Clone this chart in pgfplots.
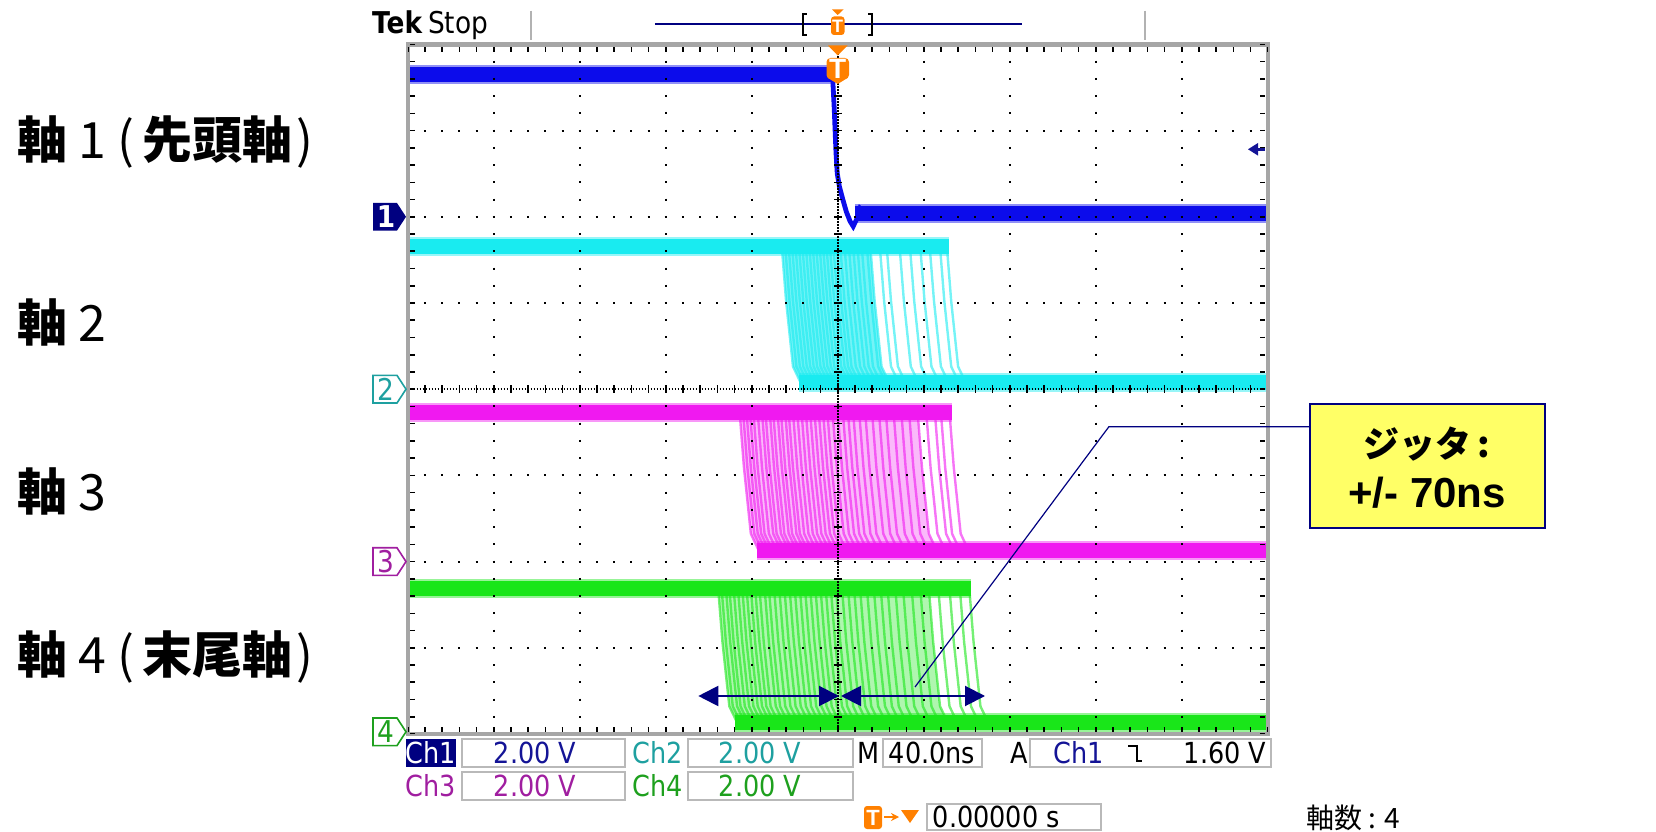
\documentclass[border=0pt]{standalone}
\usepackage{fontspec}
\usepackage{pgfplots}
\pgfplotsset{compat=1.18}
\usetikzlibrary{arrows.meta}
\newfontfamily\jp{Noto Sans CJK JP}
\newfontfamily\tek[FakeStretch=0.88]{DejaVu Sans}
\newfontfamily\arial{Liberation Sans}
\definecolor{c1}{RGB}{12,12,235}
\definecolor{c2}{RGB}{25,235,240}
\definecolor{c3}{RGB}{240,25,240}
\definecolor{c4}{RGB}{25,230,25}
\definecolor{navy}{RGB}{0,0,128}
\definecolor{tekblue}{RGB}{20,20,150}
\definecolor{tekteal}{RGB}{30,160,160}
\definecolor{tekpurple}{RGB}{160,30,160}
\definecolor{tekgreen}{RGB}{30,160,30}
\definecolor{tekorange}{RGB}{255,128,0}
\definecolor{annyellow}{RGB}{255,255,102}
\pgfplotsset{
  fringe/.style={line width=9.5pt, opacity=0.45},
  core/.style={line width=7.5pt},
  trans/.style={line width=1.2pt, opacity=0.6, unbounded coords=jump},
  env/.style={draw=none, opacity=0.45},
}
\begin{document}
\begin{tikzpicture}
\begin{axis}[at={(203.85pt,-367pt)}, anchor=south west, x=43pt, y=43.1pt,
  xmin=-5, xmax=5, ymin=-4, ymax=4, hide axis, clip=false]
% ---------- Ch1 (leading axis)
\addplot[c1, fringe] coordinates {(-5,3.645) (-0.05,3.645)};
\addplot[c1, core] coordinates {(-5,3.645) (-0.05,3.645)};
\addplot[c1, line width=2.4pt] coordinates {(-0.06,3.645) (-0.04,3.25) (-0.02,2.75) (-0.005,2.5) (0.02,2.35) (0.06,2.2) (0.10,2.06) (0.143,1.95) (0.18,1.89) (0.22,1.97) (0.26,2.10) (0.31,2.06) (0.37,2.03)};
\addplot[c1, fringe] coordinates {(0.2,2.044) (5,2.044)};
\addplot[c1, core] coordinates {(0.2,2.044) (5,2.044)};
% ---------- Ch2
\addplot[fill=c2, env, opacity=0.6] coordinates {(-0.65,1.65)(-0.60,1.02)(-0.52,0.263)(-0.43,0.074)(0.60,0.074)(0.51,0.263)(0.43,1.02)(0.38,1.65)};
\addplot[c2, trans] coordinates {
(-0.65,1.65)(-0.60,1.02)(-0.52,0.263)(-0.43,0.074)(0,nan)
(-0.61,1.65)(-0.56,1.02)(-0.48,0.263)(-0.39,0.074)(0,nan)
(-0.57,1.65)(-0.52,1.02)(-0.44,0.263)(-0.35,0.074)(0,nan)
(-0.53,1.65)(-0.48,1.02)(-0.40,0.263)(-0.31,0.074)(0,nan)
(-0.49,1.65)(-0.44,1.02)(-0.36,0.263)(-0.27,0.074)(0,nan)
(-0.45,1.65)(-0.40,1.02)(-0.32,0.263)(-0.23,0.074)(0,nan)
(-0.41,1.65)(-0.36,1.02)(-0.28,0.263)(-0.19,0.074)(0,nan)
(-0.37,1.65)(-0.32,1.02)(-0.24,0.263)(-0.15,0.074)(0,nan)
(-0.33,1.65)(-0.28,1.02)(-0.20,0.263)(-0.11,0.074)(0,nan)
(-0.29,1.65)(-0.24,1.02)(-0.16,0.263)(-0.07,0.074)(0,nan)
(-0.25,1.65)(-0.20,1.02)(-0.12,0.263)(-0.03,0.074)(0,nan)
(-0.21,1.65)(-0.16,1.02)(-0.08,0.263)(0.01,0.074)(0,nan)
(-0.17,1.65)(-0.12,1.02)(-0.04,0.263)(0.05,0.074)(0,nan)
(-0.13,1.65)(-0.08,1.02)(0.00,0.263)(0.09,0.074)(0,nan)
(-0.09,1.65)(-0.04,1.02)(0.04,0.263)(0.13,0.074)(0,nan)
(-0.05,1.65)(0.00,1.02)(0.08,0.263)(0.17,0.074)(0,nan)
(-0.01,1.65)(0.04,1.02)(0.12,0.263)(0.21,0.074)(0,nan)
(0.03,1.65)(0.08,1.02)(0.16,0.263)(0.25,0.074)(0,nan)
(0.08,1.65)(0.13,1.02)(0.21,0.263)(0.30,0.074)(0,nan)
(0.13,1.65)(0.18,1.02)(0.26,0.263)(0.35,0.074)(0,nan)
(0.18,1.65)(0.23,1.02)(0.31,0.263)(0.40,0.074)(0,nan)
(0.23,1.65)(0.28,1.02)(0.36,0.263)(0.45,0.074)(0,nan)
(0.28,1.65)(0.33,1.02)(0.41,0.263)(0.50,0.074)(0,nan)
(0.34,1.65)(0.39,1.02)(0.47,0.263)(0.56,0.074)(0,nan)
(0.38,1.65)(0.43,1.02)(0.51,0.263)(0.60,0.074)(0,nan)
(0.49,1.65)(0.54,1.02)(0.62,0.263)(0.71,0.074)(0,nan)
(0.57,1.65)(0.62,1.02)(0.70,0.263)(0.79,0.074)(0,nan)
(0.72,1.65)(0.77,1.02)(0.85,0.263)(0.94,0.074)(0,nan)
(0.84,1.65)(0.89,1.02)(0.97,0.263)(1.06,0.074)(0,nan)
(0.96,1.65)(1.01,1.02)(1.09,0.263)(1.18,0.074)(0,nan)
(1.07,1.65)(1.12,1.02)(1.20,0.263)(1.29,0.074)(0,nan)
(1.19,1.65)(1.24,1.02)(1.32,0.263)(1.41,0.074)(0,nan)
(1.27,1.65)(1.32,1.02)(1.40,0.263)(1.49,0.074)
};
\addplot[c2, fringe] coordinates {(-5,1.65) (1.30,1.65)};
\addplot[c2, core] coordinates {(-5,1.65) (1.30,1.65)};
\addplot[c2, fringe] coordinates {(-0.45,0.074) (5,0.074)};
\addplot[c2, core] coordinates {(-0.45,0.074) (5,0.074)};
% ---------- Ch3
\addplot[fill=c3, env, opacity=0.3] coordinates {(-1.14,-0.27)(-1.09,-0.909)(-1.01,-1.676)(-0.92,-1.868)(1.15,-1.868)(1.06,-1.676)(0.98,-0.909)(0.93,-0.27)};
\addplot[c3, trans] coordinates {
(-1.14,-0.27)(-1.09,-0.909)(-1.01,-1.676)(-0.92,-1.868)(0,nan)
(-1.10,-0.27)(-1.05,-0.909)(-0.97,-1.676)(-0.88,-1.868)(0,nan)
(-1.06,-0.27)(-1.01,-0.909)(-0.93,-1.676)(-0.84,-1.868)(0,nan)
(-1.02,-0.27)(-0.97,-0.909)(-0.89,-1.676)(-0.80,-1.868)(0,nan)
(-0.98,-0.27)(-0.93,-0.909)(-0.85,-1.676)(-0.76,-1.868)(0,nan)
(-0.93,-0.27)(-0.88,-0.909)(-0.80,-1.676)(-0.71,-1.868)(0,nan)
(-0.88,-0.27)(-0.83,-0.909)(-0.75,-1.676)(-0.66,-1.868)(0,nan)
(-0.84,-0.27)(-0.79,-0.909)(-0.71,-1.676)(-0.62,-1.868)(0,nan)
(-0.79,-0.27)(-0.74,-0.909)(-0.66,-1.676)(-0.57,-1.868)(0,nan)
(-0.75,-0.27)(-0.70,-0.909)(-0.62,-1.676)(-0.53,-1.868)(0,nan)
(-0.70,-0.27)(-0.65,-0.909)(-0.57,-1.676)(-0.48,-1.868)(0,nan)
(-0.66,-0.27)(-0.61,-0.909)(-0.53,-1.676)(-0.44,-1.868)(0,nan)
(-0.61,-0.27)(-0.56,-0.909)(-0.48,-1.676)(-0.39,-1.868)(0,nan)
(-0.57,-0.27)(-0.52,-0.909)(-0.44,-1.676)(-0.35,-1.868)(0,nan)
(-0.52,-0.27)(-0.47,-0.909)(-0.39,-1.676)(-0.30,-1.868)(0,nan)
(-0.47,-0.27)(-0.42,-0.909)(-0.34,-1.676)(-0.25,-1.868)(0,nan)
(-0.42,-0.27)(-0.37,-0.909)(-0.29,-1.676)(-0.20,-1.868)(0,nan)
(-0.37,-0.27)(-0.32,-0.909)(-0.24,-1.676)(-0.15,-1.868)(0,nan)
(-0.32,-0.27)(-0.27,-0.909)(-0.19,-1.676)(-0.10,-1.868)(0,nan)
(-0.27,-0.27)(-0.22,-0.909)(-0.14,-1.676)(-0.05,-1.868)(0,nan)
(-0.22,-0.27)(-0.17,-0.909)(-0.09,-1.676)(0.00,-1.868)(0,nan)
(-0.17,-0.27)(-0.12,-0.909)(-0.04,-1.676)(0.05,-1.868)(0,nan)
(-0.12,-0.27)(-0.07,-0.909)(0.01,-1.676)(0.10,-1.868)(0,nan)
(-0.06,-0.27)(-0.01,-0.909)(0.07,-1.676)(0.16,-1.868)(0,nan)
(0.00,-0.27)(0.05,-0.909)(0.13,-1.676)(0.22,-1.868)(0,nan)
(0.06,-0.27)(0.11,-0.909)(0.19,-1.676)(0.28,-1.868)(0,nan)
(0.12,-0.27)(0.17,-0.909)(0.25,-1.676)(0.34,-1.868)(0,nan)
(0.18,-0.27)(0.23,-0.909)(0.31,-1.676)(0.40,-1.868)(0,nan)
(0.25,-0.27)(0.30,-0.909)(0.38,-1.676)(0.47,-1.868)(0,nan)
(0.32,-0.27)(0.37,-0.909)(0.45,-1.676)(0.54,-1.868)(0,nan)
(0.40,-0.27)(0.45,-0.909)(0.53,-1.676)(0.62,-1.868)(0,nan)
(0.48,-0.27)(0.53,-0.909)(0.61,-1.676)(0.70,-1.868)(0,nan)
(0.56,-0.27)(0.61,-0.909)(0.69,-1.676)(0.78,-1.868)(0,nan)
(0.65,-0.27)(0.70,-0.909)(0.78,-1.676)(0.87,-1.868)(0,nan)
(0.74,-0.27)(0.79,-0.909)(0.87,-1.676)(0.96,-1.868)(0,nan)
(0.83,-0.27)(0.88,-0.909)(0.96,-1.676)(1.05,-1.868)(0,nan)
(0.93,-0.27)(0.98,-0.909)(1.06,-1.676)(1.15,-1.868)(0,nan)
(1.03,-0.27)(1.08,-0.909)(1.16,-1.676)(1.25,-1.868)(0,nan)
(1.13,-0.27)(1.18,-0.909)(1.26,-1.676)(1.35,-1.868)(0,nan)
(1.20,-0.27)(1.25,-0.909)(1.33,-1.676)(1.42,-1.868)(0,nan)
(1.30,-0.27)(1.35,-0.909)(1.43,-1.676)(1.52,-1.868)
};
\addplot[c3, fringe] coordinates {(-5,-0.27) (1.33,-0.27)};
\addplot[c3, core] coordinates {(-5,-0.27) (1.33,-0.27)};
\addplot[c3, fringe] coordinates {(-0.94,-1.868) (5,-1.868)};
\addplot[c3, core] coordinates {(-0.94,-1.868) (5,-1.868)};
% ---------- Ch4 (trailing axis)
\addplot[fill=c4, env, opacity=0.35] coordinates {(-1.39,-2.31)(-1.34,-2.932)(-1.26,-3.679)(-1.17,-3.866)(1.28,-3.866)(1.19,-3.679)(1.11,-2.932)(1.06,-2.31)};
\addplot[c4, trans] coordinates {
(-1.39,-2.31)(-1.34,-2.932)(-1.26,-3.679)(-1.17,-3.866)(0,nan)
(-1.35,-2.31)(-1.30,-2.932)(-1.22,-3.679)(-1.13,-3.866)(0,nan)
(-1.30,-2.31)(-1.25,-2.932)(-1.17,-3.679)(-1.08,-3.866)(0,nan)
(-1.26,-2.31)(-1.21,-2.932)(-1.13,-3.679)(-1.04,-3.866)(0,nan)
(-1.21,-2.31)(-1.16,-2.932)(-1.08,-3.679)(-0.99,-3.866)(0,nan)
(-1.16,-2.31)(-1.11,-2.932)(-1.03,-3.679)(-0.94,-3.866)(0,nan)
(-1.11,-2.31)(-1.06,-2.932)(-0.98,-3.679)(-0.89,-3.866)(0,nan)
(-1.06,-2.31)(-1.01,-2.932)(-0.93,-3.679)(-0.84,-3.866)(0,nan)
(-1.01,-2.31)(-0.96,-2.932)(-0.88,-3.679)(-0.79,-3.866)(0,nan)
(-0.96,-2.31)(-0.91,-2.932)(-0.83,-3.679)(-0.74,-3.866)(0,nan)
(-0.91,-2.31)(-0.86,-2.932)(-0.78,-3.679)(-0.69,-3.866)(0,nan)
(-0.85,-2.31)(-0.80,-2.932)(-0.72,-3.679)(-0.63,-3.866)(0,nan)
(-0.80,-2.31)(-0.75,-2.932)(-0.67,-3.679)(-0.58,-3.866)(0,nan)
(-0.74,-2.31)(-0.69,-2.932)(-0.61,-3.679)(-0.52,-3.866)(0,nan)
(-0.68,-2.31)(-0.63,-2.932)(-0.55,-3.679)(-0.46,-3.866)(0,nan)
(-0.62,-2.31)(-0.57,-2.932)(-0.49,-3.679)(-0.40,-3.866)(0,nan)
(-0.56,-2.31)(-0.51,-2.932)(-0.43,-3.679)(-0.34,-3.866)(0,nan)
(-0.50,-2.31)(-0.45,-2.932)(-0.37,-3.679)(-0.28,-3.866)(0,nan)
(-0.44,-2.31)(-0.39,-2.932)(-0.31,-3.679)(-0.22,-3.866)(0,nan)
(-0.38,-2.31)(-0.33,-2.932)(-0.25,-3.679)(-0.16,-3.866)(0,nan)
(-0.32,-2.31)(-0.27,-2.932)(-0.19,-3.679)(-0.10,-3.866)(0,nan)
(-0.26,-2.31)(-0.21,-2.932)(-0.13,-3.679)(-0.04,-3.866)(0,nan)
(-0.20,-2.31)(-0.15,-2.932)(-0.07,-3.679)(0.02,-3.866)(0,nan)
(-0.14,-2.31)(-0.09,-2.932)(-0.01,-3.679)(0.08,-3.866)(0,nan)
(-0.08,-2.31)(-0.03,-2.932)(0.05,-3.679)(0.14,-3.866)(0,nan)
(-0.02,-2.31)(0.03,-2.932)(0.11,-3.679)(0.20,-3.866)(0,nan)
(0.05,-2.31)(0.10,-2.932)(0.18,-3.679)(0.27,-3.866)(0,nan)
(0.12,-2.31)(0.17,-2.932)(0.25,-3.679)(0.34,-3.866)(0,nan)
(0.19,-2.31)(0.24,-2.932)(0.32,-3.679)(0.41,-3.866)(0,nan)
(0.26,-2.31)(0.31,-2.932)(0.39,-3.679)(0.48,-3.866)(0,nan)
(0.34,-2.31)(0.39,-2.932)(0.47,-3.679)(0.56,-3.866)(0,nan)
(0.42,-2.31)(0.47,-2.932)(0.55,-3.679)(0.64,-3.866)(0,nan)
(0.50,-2.31)(0.55,-2.932)(0.63,-3.679)(0.72,-3.866)(0,nan)
(0.58,-2.31)(0.63,-2.932)(0.71,-3.679)(0.80,-3.866)(0,nan)
(0.67,-2.31)(0.72,-2.932)(0.80,-3.679)(0.89,-3.866)(0,nan)
(0.76,-2.31)(0.81,-2.932)(0.89,-3.679)(0.98,-3.866)(0,nan)
(0.86,-2.31)(0.91,-2.932)(0.99,-3.679)(1.08,-3.866)(0,nan)
(0.96,-2.31)(1.01,-2.932)(1.09,-3.679)(1.18,-3.866)(0,nan)
(1.06,-2.31)(1.11,-2.932)(1.19,-3.679)(1.28,-3.866)(0,nan)
(1.17,-2.31)(1.22,-2.932)(1.30,-3.679)(1.39,-3.866)(0,nan)
(1.30,-2.31)(1.35,-2.932)(1.43,-3.679)(1.52,-3.866)(0,nan)
(1.42,-2.31)(1.47,-2.932)(1.55,-3.679)(1.64,-3.866)(0,nan)
(1.53,-2.31)(1.58,-2.932)(1.66,-3.679)(1.75,-3.866)
};
\addplot[c4, fringe] coordinates {(-5,-2.31) (1.55,-2.31)};
\addplot[c4, core] coordinates {(-5,-2.31) (1.55,-2.31)};
\addplot[c4, fringe] coordinates {(-1.19,-3.866) (5,-3.866)};
\addplot[c4, core] coordinates {(-1.19,-3.866) (5,-3.866)};
\end{axis}

\begin{scope}[x=0.5pt,y=-0.5pt]
\path (0,0) rectangle (1656,831);
% graticule dots
\foreach \i in {1,2,3,4,6,7,8,9}
  \draw[black, line width=1pt, dash pattern=on 1pt off 7.62pt, dash phase=0.5pt] ({407.7+86*\i},44.4) -- ({407.7+86*\i},734);
\foreach \j in {1,2,3,5,6,7}
  \draw[black, line width=1pt, dash pattern=on 1pt off 7.6pt, dash phase=0.5pt] (407.7,{44.4+86.2*\j}) -- (1267.7,{44.4+86.2*\j});
% centre lines
\draw[black, line width=1pt, dash pattern=on 0.7pt off 0.8pt] (837.7,44.4) -- (837.7,734);
\draw[black, line width=4pt, dash pattern=on 0.8pt off 7.82pt, dash phase=0.4pt] (837.7,44.4) -- (837.7,734);
\draw[black, line width=1pt, dash pattern=on 0.7pt off 0.8pt] (407.7,389.2) -- (1267.7,389.2);
\draw[black, line width=4pt, dash pattern=on 0.8pt off 7.8pt, dash phase=0.4pt] (407.7,389.2) -- (1267.7,389.2);
% border
\draw[gray!70, line width=2.2pt] (407.7,44.4) rectangle (1267.7,734);
\draw[black, line width=2.5pt, dash pattern=on 0.8pt off 7.8pt, dash phase=0.4pt] (407.7,49.4) -- (1267.7,49.4);
\draw[black, line width=2.5pt, dash pattern=on 0.8pt off 7.8pt, dash phase=0.4pt] (407.7,729) -- (1267.7,729);
\draw[black, line width=2.5pt, dash pattern=on 0.8pt off 7.82pt, dash phase=0.4pt] (412.7,44.4) -- (412.7,734);
\draw[black, line width=2.5pt, dash pattern=on 0.8pt off 7.82pt, dash phase=0.4pt] (1262.7,44.4) -- (1262.7,734);
% channel ground markers
\fill[navy] (373,203) -- (397,203) -- (406,216.8) -- (397,230.6) -- (373,230.6) -- cycle;
\node[white, font=\tek\bfseries\fontsize{15}{15}\selectfont] at (386,216.8) {1};
\filldraw[fill=white, draw=tekteal, line width=0.8pt] (373,375.4) -- (397,375.4) -- (406,389.2) -- (397,403) -- (373,403) -- cycle;
\node[tekteal, font=\tek\fontsize{15}{15}\selectfont] at (386,389.2) {2};
\filldraw[fill=white, draw=tekpurple, line width=0.8pt] (373,547.8) -- (397,547.8) -- (406,561.6) -- (397,575.4) -- (373,575.4) -- cycle;
\node[tekpurple, font=\tek\fontsize{15}{15}\selectfont] at (386,561.6) {3};
\filldraw[fill=white, draw=tekgreen, line width=0.8pt] (373,718) -- (397,718) -- (406,731.8) -- (397,745.6) -- (373,745.6) -- cycle;
\node[tekgreen, font=\tek\fontsize{15}{15}\selectfont] at (386,731.8) {4};
% trigger level arrow
\fill[tekblue] (1248,149.3) -- (1258,143) -- (1258,155.6) -- cycle;
\draw[tekblue, line width=1.5pt] (1256,149.3) -- (1265,149.3);
% trigger position marker
\fill[tekorange] (828,45.5) -- (847.5,45.5) -- (837.7,55.5) -- cycle;
\fill[tekorange, rounded corners=2pt] (826.5,58) rectangle (849,79);
\fill[tekorange] (828,78) -- (847.5,78) -- (837.7,84) -- cycle;
\node[white, font=\arial\bfseries\fontsize{14}{14}\selectfont] at (837.7,69) {T};
% top bar
\node[anchor=west, inner sep=0, font=\tek\fontsize{15}{15}\selectfont] at (371.7,25) {{\bfseries Tek}\hspace{3pt}Stop};
\draw[gray!60, line width=0.8pt] (531.2,10.6) -- (531.2,40);
\draw[gray!60, line width=0.8pt] (1144.8,10.6) -- (1144.8,40);
\draw[navy, line width=1pt] (654.8,24.3) -- (1022.3,24.3);
\draw[black, line width=1pt] (806.5,13.7) -- (802.6,13.7) -- (802.6,34.9) -- (806.5,34.9);
\draw[black, line width=1pt] (868.4,13.7) -- (872.3,13.7) -- (872.3,34.9) -- (868.4,34.9);
\fill[tekorange] (832,9.5) -- (843.5,9.5) -- (837.7,15) -- cycle;
\fill[tekorange, rounded corners=1.5pt] (831,16.5) rectangle (844.5,35);
\node[white, font=\arial\bfseries\fontsize{9}{9}\selectfont] at (837.7,26) {T};
% left labels
\node[anchor=west, inner sep=0, font=\jp\fontsize{25}{25}\selectfont] at (16.7,142) {\bfseries 軸\mdseries\ 1 (\hspace{4pt}\bfseries 先頭軸\mdseries\hspace{2pt})};
\node[anchor=west, inner sep=0, font=\jp\fontsize{25}{25}\selectfont] at (16.7,322) {\bfseries 軸\mdseries\ 2};
\node[anchor=west, inner sep=0, font=\jp\fontsize{25}{25}\selectfont] at (16.7,491) {\bfseries 軸\mdseries\ 3};
\node[anchor=west, inner sep=0, font=\jp\fontsize{25}{25}\selectfont] at (16.7,657.5) {\bfseries 軸\mdseries\ 4 (\hspace{4pt}\bfseries 末尾軸\mdseries\hspace{2pt})};
% annotation
\draw[navy, line width=0.6pt] (1309.6,426.7) -- (1108.9,426.7) -- (915,687);
\filldraw[fill=annyellow, draw=navy, line width=1pt] (1309.6,404.5) rectangle (1545.1,528);
\node[font=\jp\bfseries\fontsize{18}{18}\selectfont] at (1427,443.6) {ジッタ\,:};
\node[font=\arial\bfseries\fontsize{21}{21}\selectfont] at (1427,493.2) {+/- 70ns};
\draw[navy, line width=1pt, {Triangle[length=10pt,width=10pt]}-{Triangle[length=10pt,width=10pt]}] (698.3,696) -- (839,696);
\draw[navy, line width=1pt, {Triangle[length=10pt,width=10pt]}-{Triangle[length=10pt,width=10pt]}] (841,696) -- (985,696);
% status bar
\tikzset{sb/.style={font=\tek\fontsize{14.5}{14.5}\selectfont, inner sep=0}}
\fill[navy] (405.5,739) rectangle (456.2,767);
\node[sb, white] at (431,753) {Ch1};
\draw[gray!55, line width=1pt] (461.5,739) rectangle (625.2,767);
\node[sb, tekblue] at (535,753) {2.00 V};
\node[sb, tekteal] at (658,753) {Ch2};
\draw[gray!55, line width=1pt] (687.5,739) rectangle (853.3,767);
\node[sb, tekteal] at (760,753) {2.00 V};
\node[sb] at (868.6,753) {M};
\draw[gray!55, line width=1pt] (882.9,739) rectangle (982.2,767);
\node[sb] at (932,753) {40.0ns};
\node[sb] at (1019,753) {A};
\draw[gray!55, line width=1pt] (1029.7,739) rectangle (1270.5,767);
\node[sb, tekblue] at (1078.8,753) {Ch1};
\draw[black, line width=1.2pt] (1128,746) -- (1137,746) -- (1137,761) -- (1142,761);
\node[sb] at (1225,753) {1.60 V};
\node[sb, tekpurple] at (431,786) {Ch3};
\draw[gray!55, line width=1pt] (461.5,772) rectangle (625.2,800);
\node[sb, tekpurple] at (535,786) {2.00 V};
\node[sb, tekgreen] at (658,786) {Ch4};
\draw[gray!55, line width=1pt] (687.5,772) rectangle (853.3,800);
\node[sb, tekgreen] at (760,786) {2.00 V};
\fill[tekorange, rounded corners=1.5pt] (864,806) rectangle (882,829);
\node[white, font=\arial\bfseries\fontsize{11}{11}\selectfont] at (873,817.5) {T};
\draw[tekorange, line width=1pt, -{Stealth[length=4pt,width=4pt]}] (884,817) -- (899,817);
\fill[tekorange] (901,810) -- (919,810) -- (910,823) -- cycle;
\draw[gray!55, line width=1pt] (927.3,804) rectangle (1100.5,830);
\node[sb, anchor=west] at (932.5,817) {0.00000 s};
\node[anchor=west, inner sep=0, font=\jp\fontsize{14}{14}\selectfont] at (1306,817.5) {軸数 : 4};
\end{scope}
\end{tikzpicture}
\end{document}
